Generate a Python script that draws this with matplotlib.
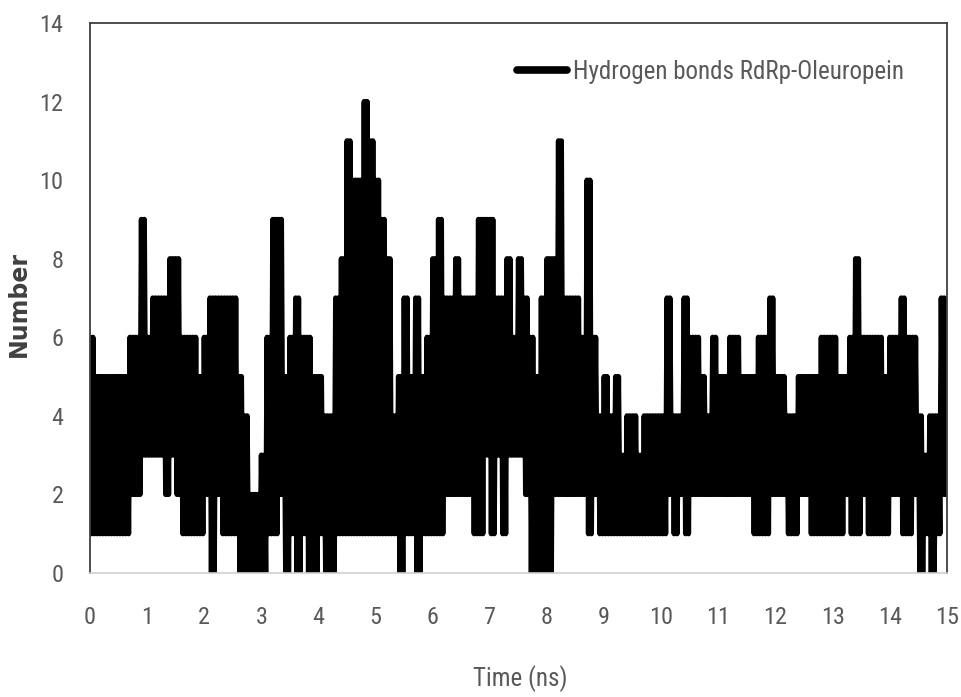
import numpy as np
import matplotlib
matplotlib.use("Agg")
import matplotlib.pyplot as plt
from matplotlib.lines import Line2D
from matplotlib import font_manager as fm

# Hydrogen bond count over the trajectory, summarised per 0.1 ns window:
# upper and lower count reached inside each window.
bin_width = 0.1
hb_high = [
    6, 5, 5, 5, 5, 5, 5, 6, 6, 9, 6, 7, 7, 7, 8, 8, 6, 6, 6, 5, 6,
    7, 7, 7, 7, 7, 5, 4, 2, 2, 3, 6, 9, 9, 5, 6, 7, 6, 6, 5, 5, 4, 4,
    7, 8, 11, 10, 10, 12, 11, 10, 9, 8, 4, 5, 7, 5, 7, 5, 6, 8, 9, 7, 7,
    8, 7, 7, 7, 9, 9, 9, 7, 7, 8, 6, 8, 7, 6, 5, 7, 8, 8, 11, 7, 7, 7,
    6, 10, 6, 4, 5, 4, 5, 3, 4, 4, 3, 4, 4, 4, 4, 7, 4, 4, 7, 6, 6, 5,
    4, 6, 5, 5, 6, 6, 5, 5, 5, 6, 6, 7, 5, 5, 4, 4, 5, 5, 5, 5,
    6, 6, 6, 5, 5, 6, 8, 6, 6, 6, 6, 5, 6, 6, 7, 6, 6, 4, 3, 4, 4, 7,
]
hb_low = [
    1, 1, 1, 1, 1, 1, 1, 2, 2, 3, 3, 3, 3, 2, 3, 2, 1, 1, 1, 1, 2,
    0, 2, 1, 1, 1, 0, 0, 0, 0, 0, 1, 1, 2, 0, 1, 0, 1, 0, 0, 1, 0, 0,
    1, 1, 1, 1, 1, 1, 1, 1, 1, 1, 1, 0, 1, 1, 0, 1, 1, 1, 1, 2, 2,
    2, 2, 2, 1, 1, 3, 1, 3, 1, 3, 3, 3, 2, 0, 0, 0, 0, 2, 2, 2, 2, 2,
    2, 1, 2, 1, 1, 1, 1, 1, 1, 1, 1, 1, 1, 1, 1, 2, 1, 2, 1, 2, 2, 2,
    2, 2, 2, 2, 2, 2, 2, 2, 1, 1, 1, 2, 2, 2, 1, 1, 2, 2, 1, 1,
    1, 1, 1, 1, 2, 1, 1, 2, 1, 1, 1, 1, 2, 2, 1, 1, 2, 0, 1, 0, 1, 2,
]
series_label = "Hydrogen bonds RdRp-Oleuropein"
x_ticks = list(range(0, 16))
y_ticks = list(range(0, 15, 2))

# Trace each window as high-low-high-low so the dense signal fills its band.
hi = np.asarray(hb_high, dtype=float)
lo = np.asarray(hb_low, dtype=float)
starts = np.arange(len(hi)) * bin_width
offsets = np.array([0.0, 0.25, 0.5, 0.75]) * bin_width
time_ns = (starts[:, None] + offsets[None, :]).ravel()
counts = np.column_stack([hi, lo, hi, lo]).ravel()

names = {f.name for f in fm.fontManager.ttflist}
narrow = [n for n in ("Liberation Sans Narrow", "Roboto Condensed", "Open Sans Condensed",
                      "Liberation Sans") if n in names][0]
text_grey = "#595959"

fig = plt.figure(figsize=(9.61, 6.97), dpi=100)
ax = fig.add_axes([90 / 961, 1 - 573 / 697, 857 / 961, 550 / 697])

ax.plot(time_ns, counts, color="black", lw=3.8,
        solid_joinstyle="round", solid_capstyle="round", clip_on=True)

ax.set_xlim(0, 15)
ax.set_ylim(0, 14)
ax.set_xticks(x_ticks)
ax.set_yticks(y_ticks)
ax.tick_params(axis="both", length=0, labelsize=17.5, labelcolor=text_grey)
ax.tick_params(axis="x", pad=24)
ax.tick_params(axis="y", pad=19)
for lab in ax.get_xticklabels() + ax.get_yticklabels():
    lab.set_fontfamily(narrow)

for side in ("top", "left", "right"):
    ax.spines[side].set_color("#404040")
    ax.spines[side].set_linewidth(1.3)
ax.spines["bottom"].set_color("#cfcfcf")
ax.spines["bottom"].set_linewidth(1.2)

ax.set_xlabel("Time (ns)", fontsize=18, color=text_grey, family=narrow, va="center")
ax.xaxis.set_label_coords((520 - 90) / 857, (573 - 679) / 550)
ax.set_ylabel("Number", fontsize=17, color="#404040", fontweight="bold",
              family="DejaVu Sans", va="center")
ax.yaxis.set_label_coords((19 - 90) / 857, (573 - 304) / 550)

handle = Line2D([], [], color="black", lw=5.5, solid_capstyle="round")
leg = ax.legend([handle], [series_label], loc="center left",
                bbox_to_anchor=(517 / 961, 1 - 72 / 697), bbox_transform=fig.transFigure,
                frameon=False, borderpad=0, borderaxespad=0,
                handlelength=2.0, handletextpad=0.25,
                prop={"family": narrow, "size": 18})
for t in leg.get_texts():
    t.set_color(text_grey)

fig.savefig("out.png", dpi=100)
